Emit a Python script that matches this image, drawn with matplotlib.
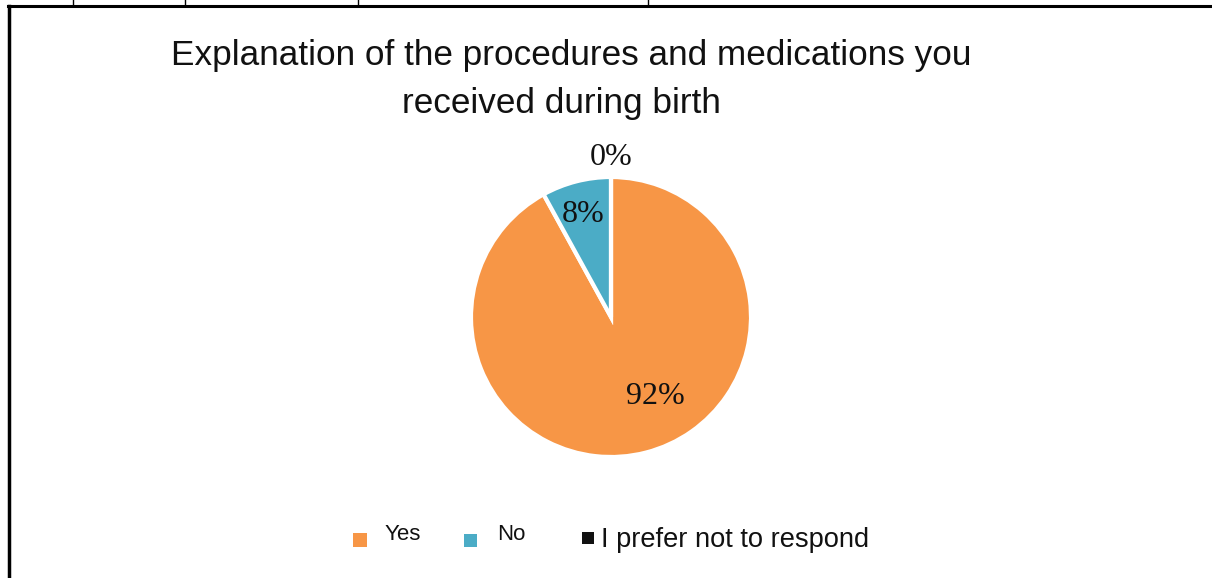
import matplotlib
matplotlib.use("Agg")
import matplotlib.pyplot as plt
from matplotlib.patches import Rectangle
from matplotlib.lines import Line2D

# survey answers
labels = ["Yes", "No", "I prefer not to respond"]
values = [92, 8, 0]
colors = ["#F79646", "#4BACC6", "#111111"]

W, H = 1212, 578
fig = plt.figure(figsize=(W / 100, H / 100), dpi=100)
fig.patch.set_facecolor("white")


def fx(x):
    return x / W


def fy(y):
    # pixel rows counted from the top
    return 1 - y / H


# pie axes: centre (611, 317), radius 140 px
R = 140
half = 1.25 * R
ax = fig.add_axes([fx(611 - half), fy(317 + half), 2 * half / W, 2 * half / H])
wedges, texts, autotexts = ax.pie(
    values, colors=colors, startangle=90, counterclock=False,
    autopct="%d%%", pctdistance=0.76,
    wedgeprops=dict(edgecolor="white", linewidth=3),
    textprops=dict(family="Liberation Serif", fontsize=23, color="#111111"),
)
ax.set_xlim(-1.25, 1.25)
ax.set_ylim(-1.25, 1.25)
ax.set_aspect("equal")

# put the percent labels where they sit on the chart
autotexts[0].set_position((0.32, -0.57))
autotexts[1].set_position((-0.2, 0.73))
autotexts[2].set_position((0.0, 1.14))
for t in autotexts:
    t.set_ha("center")
    t.set_va("center")

# title
fig.text(fx(571), fy(55), "Explanation of the procedures and medications you",
         family="Liberation Sans", fontsize=25.3, ha="center", va="center", color="#111111")
fig.text(fx(561), fy(104), "received during birth",
         family="Liberation Sans", fontsize=25.3, ha="center", va="center", color="#111111")

# legend drawn by hand
sq = [(353, 533, 14), (464, 534, 13), (582, 532, 12)]
txt = [(385, 535, 16), (497, 535, 16), (601, 540, 19.6)]
for lab, c, (sx, sy, s), (tx, ty, fs) in zip(labels, colors, sq, txt):
    fig.add_artist(Rectangle((fx(sx), fy(sy + s)), s / W, s / H,
                             transform=fig.transFigure, color=c, lw=0))
    fig.text(fx(tx), fy(ty), lab, family="Liberation Sans", fontsize=fs,
             ha="left", va="center", color="#111111")

# table border around the figure
fig.add_artist(Line2D([fx(8), 1], [fy(6), fy(6)], transform=fig.transFigure,
                      color="black", lw=2.2))
fig.add_artist(Line2D([fx(9), fx(9)], [fy(6), 0], transform=fig.transFigure,
                      color="black", lw=2.5))
for x in [73, 185, 358, 648]:
    fig.add_artist(Line2D([fx(x), fx(x)], [1, fy(6)], transform=fig.transFigure,
                          color="black", lw=1))

fig.savefig("out.png", dpi=100, facecolor="white")
